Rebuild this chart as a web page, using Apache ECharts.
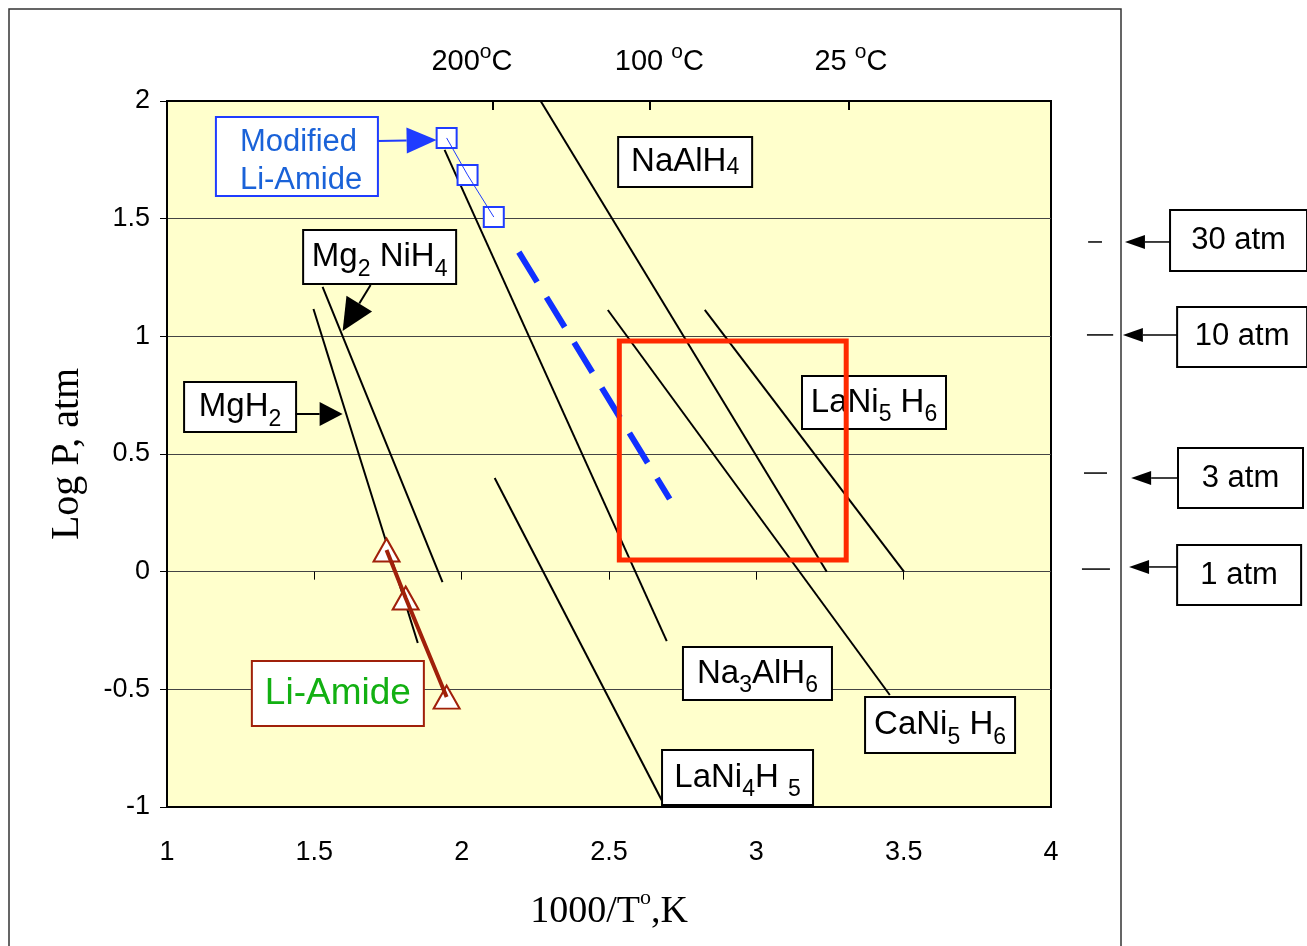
<!DOCTYPE html>
<html>
<head>
<meta charset="utf-8">
<title>Hydride dissociation pressure vs 1000/T</title>
<script src="https://cdn.jsdelivr.net/npm/echarts@6/dist/echarts.min.js"></script>
<style>
  html, body { margin: 0; padding: 0; background: #fff; }
  #chart { width: 1307px; height: 946px; }
</style>
</head>
<body>
<div id="chart"></div>
<script>
// van 't Hoff lines: [1000/T (K), log P (atm)] end points
const naAlH4 = [[2.268, 2.0], [3.239, 0.0]]
const na3AlH6 = [[1.942, 1.792], [2.696, -0.295]]
const caNi5H6 = [[2.496, 1.112], [3.453, -0.524]]
const laNi5H6 = [[2.825, 1.112], [3.501, 0.0]]
const laNi4H5 = [[2.112, 0.398], [2.679, -0.971]]
const mg2NiH4 = [[1.528, 1.210], [1.935, -0.044]]
const mgH2 = [[1.497, 1.116], [1.851, -0.303]]

// measured points
const modifiedLiAmide = [[1.949, 1.843], [2.020, 1.686], [2.109, 1.507]]
const modifiedLiAmideTrend = [[2.194, 1.358], [2.706, 0.309]]
const liAmide = [[1.745, 0.092], [1.810, -0.112], [1.949, -0.533]]

// target window (red box)
const targetX = [2.535, 3.305]
const targetY = [0.05, 0.98]

// temperature marks on the top axis
const tempTickAt = [2.106, 2.638, 3.312]
const tempLabelAt = [2.035, 2.671, 3.321]
const tempLabels = ['200{o|o}C', '100 {o|o}C', '25 {o|o}C']

// annotation boxes: text and top-left corner in data units
const noteText = [
  'Modified\nLi-Amide',
  'NaAlH{sm|4}',
  'Mg{sub|2} NiH{sub|4}',
  'MgH{sub|2}',
  'LaNi{sub|5} H{sub|6}',
  'Na{sub|3}AlH{sub|6}',
  'CaNi{sub|5} H{sub|6}',
  'LaNi{sub|4}H {sub|5}',
  'Li-Amide',
  '30 atm',
  '10 atm',
  '3 atm',
  '1 atm',
]
const noteAt = [
  [1.166, 1.932], [2.531, 1.847], [1.462, 1.452], [1.058, 0.806],
  [3.155, 0.831], [2.751, -0.320], [3.369, -0.533], [2.680, -0.758],
  [1.288, -0.380], [4.404, 1.537], [4.428, 1.125], [4.431, 0.525], [4.428, 0.113],
]

// pointer arrows (from -> to)
const arrowFrom = [
  [1.715, 1.830], [1.691, 1.218], [1.436, 0.670],
  [4.404, 1.401], [4.428, 1.006], [4.431, 0.398], [4.428, 0.020],
]
const arrowTo = [
  [1.915, 1.834], [1.596, 1.023], [1.596, 0.670],
  [4.251, 1.401], [4.244, 1.006], [4.272, 0.398], [4.265, 0.020],
]

// little pressure marks right of the plot
const pressureDashX = [[4.126, 4.173], [4.122, 4.211], [4.112, 4.190], [4.105, 4.200]]
const pressureDashY = [1.401, 1.006, 0.419, 0.011]

const SANS = '"Liberation Sans", Arial, sans-serif'
const SERIF = '"Liberation Serif", "Times New Roman", serif'
const BLUE = '#1f3cff'
const DARK_RED = '#a0200a'

// box sizes / colours for the annotations (pixels)
const noteStyle = [
  { w: 162, h: 79, stroke: BLUE, color: '#1a62d8', size: 31, align: 'left', tx: 24, ty: 44, lh: 38 },
  { w: 134, h: 50 },
  { w: 153, h: 54 },
  { w: 112, h: 50 },
  { w: 144, h: 53 },
  { w: 149, h: 53 },
  { w: 150, h: 56 },
  { w: 151, h: 55 },
  { w: 172, h: 65, stroke: DARK_RED, color: '#12b012', size: 37 },
  { w: 137, h: 61, size: 31 },
  { w: 130, h: 60, size: 31 },
  { w: 125, h: 60, size: 31 },
  { w: 124, h: 60, size: 31 },
]
const arrowStyle = [
  { color: BLUE, width: 2, head: 30, half: 13 },
  { color: '#000', width: 2, head: 32, half: 15 },
  { color: '#000', width: 2, head: 23, half: 12 },
  { color: '#000', width: 1.5, head: 20, half: 7 },
  { color: '#000', width: 1.5, head: 20, half: 7 },
  { color: '#000', width: 1.5, head: 20, half: 7 },
  { color: '#000', width: 1.5, head: 20, half: 7 },
]

// subscripts: pushed down with top padding inside the rich line
const subRich = {
  sub: { fontSize: 23, verticalAlign: 'top', padding: [19, 0, 0, 0], fontFamily: SANS },
  sm: { fontSize: 23, verticalAlign: 'top', padding: [12, 0, 0, 0], fontFamily: SANS },
}

const renderNote = (params, api) => {
  const i = params.dataIndex
  const s = noteStyle[i]
  const p = api.coord([api.value(0), api.value(1)])
  const size = s.size || 33
  return {
    type: 'group',
    children: [
      {
        type: 'rect',
        shape: { x: p[0], y: p[1], width: s.w, height: s.h },
        style: { fill: '#fff', stroke: s.stroke || '#000', lineWidth: 2 },
      },
      {
        type: 'text',
        x: p[0] + (s.tx ?? s.w / 2),
        y: p[1] + (s.ty ?? s.h / 2),
        style: {
          text: noteText[i],
          fill: s.color || '#000',
          fontSize: size,
          fontFamily: SANS,
          lineHeight: s.lh || 36,
          align: s.align || 'center',
          verticalAlign: 'middle',
          rich: subRich,
        },
      },
    ],
  }
}

const renderSegment = (styles) => (params, api) => {
  const s = styles[params.dataIndex] || styles[0]
  const a = api.coord([api.value(0), api.value(1)])
  const b = api.coord([api.value(2), api.value(3)])
  const dx = b[0] - a[0]
  const dy = b[1] - a[1]
  const len = Math.hypot(dx, dy) || 1
  const ux = dx / len
  const uy = dy / len
  const bx = b[0] - ux * s.head
  const by = b[1] - uy * s.head
  const children = [
    {
      type: 'line',
      shape: { x1: a[0], y1: a[1], x2: bx, y2: by },
      style: { stroke: s.color, lineWidth: s.width },
    },
  ]
  if (s.head) {
    children.push({
      type: 'polygon',
      shape: {
        points: [
          [b[0], b[1]],
          [bx - uy * s.half, by + ux * s.half],
          [bx + uy * s.half, by - ux * s.half],
        ],
      },
      style: { fill: s.color },
    })
  }
  return { type: 'group', children }
}

const hydrideLine = (name, data) => ({
  name,
  type: 'line',
  data,
  symbol: 'none',
  silent: true,
  z: 2,
  lineStyle: { color: '#000', width: 2 },
})

const targetBox = [
  [targetX[0], targetY[1]],
  [targetX[1], targetY[1]],
  [targetX[1], targetY[0]],
  [targetX[0], targetY[0]],
  [targetX[0], targetY[1]],
]

const chart = echarts.init(document.getElementById('chart'))

chart.setOption({
  animation: false,
  backgroundColor: '#fff',
  graphic: [
    {
      type: 'rect',
      silent: true,
      shape: { x: 9, y: 9, width: 1112, height: 1000 },
      style: { fill: 'none', stroke: '#333', lineWidth: 1.5 },
    },
  ],
  grid: {
    left: 167,
    right: 256,
    top: 101,
    bottom: 139,
    show: true,
    backgroundColor: '#ffffcc',
    borderColor: '#000',
    borderWidth: 2,
    containLabel: false,
    outerBoundsMode: 'none',
  },
  xAxis: [
    {
      type: 'value',
      position: 'bottom',
      min: 1,
      max: 4,
      interval: 0.5,
      name: '1000/T{o|o},K',
      nameLocation: 'middle',
      nameGap: 80,
      nameTextStyle: {
        fontFamily: SERIF,
        fontSize: 38,
        color: '#000',
        lineHeight: 50,
        rich: { o: { fontFamily: SERIF, fontSize: 22, verticalAlign: 'top', color: '#000' } },
      },
      axisLine: { onZero: false, lineStyle: { color: '#000', width: 2 } },
      axisTick: { show: false },
      splitLine: { show: false },
      axisLabel: { margin: 32, fontSize: 27, color: '#000', fontFamily: SANS },
    },
    {
      // tick marks sit on the log P = 0 line, as in the original
      type: 'value',
      position: 'bottom',
      min: 1,
      max: 4,
      interval: 0.5,
      axisLine: { show: false, onZero: true },
      axisTick: { show: true, inside: false, length: 8, lineStyle: { color: '#000', width: 1 } },
      axisLabel: { show: false },
      splitLine: { show: false },
    },
    {
      type: 'value',
      position: 'top',
      min: 1,
      max: 4,
      axisLine: { show: false, onZero: false },
      axisTick: { show: true, inside: true, length: 9, customValues: tempTickAt, lineStyle: { color: '#000', width: 2 } },
      splitLine: { show: false },
      axisLabel: {
        customValues: tempLabelAt,
        formatter: (v) => tempLabels[tempLabelAt.findIndex((t) => Math.abs(t - v) < 1e-6)] || '',
        margin: 19,
        fontSize: 29,
        lineHeight: 40,
        color: '#000',
        fontFamily: SANS,
        rich: { o: { fontSize: 21, verticalAlign: 'top', fontFamily: SANS, color: '#000' } },
      },
    },
  ],
  yAxis: {
    type: 'value',
    min: -1,
    max: 2,
    interval: 0.5,
    name: 'Log P, atm',
    nameLocation: 'middle',
    nameGap: 80,
    nameTextStyle: { fontFamily: SERIF, fontSize: 40, color: '#000' },
    axisLine: { show: true, lineStyle: { color: '#000', width: 2 } },
    axisTick: { show: true, length: 7, lineStyle: { color: '#000', width: 1 } },
    axisLabel: { margin: 17, fontSize: 27, color: '#000', fontFamily: SANS },
    splitLine: { show: true, showMinLine: false, showMaxLine: false, lineStyle: { color: '#444', width: 1 } },
  },
  series: [
    hydrideLine('NaAlH4', naAlH4),
    hydrideLine('Na3AlH6', na3AlH6),
    hydrideLine('CaNi5H6', caNi5H6),
    hydrideLine('LaNi5H6', laNi5H6),
    hydrideLine('LaNi4H5', laNi4H5),
    hydrideLine('Mg2NiH4', mg2NiH4),
    hydrideLine('MgH2', mgH2),
    {
      name: 'Modified Li-Amide trend',
      type: 'line',
      data: modifiedLiAmideTrend,
      symbol: 'none',
      silent: true,
      z: 2,
      lineStyle: { color: '#1030ff', width: 6, type: [35, 18], cap: 'butt' },
    },
    {
      name: 'Modified Li-Amide',
      type: 'scatter',
      data: modifiedLiAmide,
      symbol: 'rect',
      symbolSize: 20,
      silent: true,
      z: 3,
      itemStyle: { color: '#fff', borderColor: BLUE, borderWidth: 2, opacity: 1 },
    },
    {
      name: 'Modified Li-Amide link',
      type: 'line',
      data: modifiedLiAmide,
      symbol: 'none',
      silent: true,
      z: 4,
      lineStyle: { color: BLUE, width: 1 },
    },
    {
      name: 'Li-Amide',
      type: 'scatter',
      data: liAmide,
      symbol: 'triangle',
      symbolSize: [26, 23],
      silent: true,
      z: 3,
      itemStyle: { color: '#fff', borderColor: DARK_RED, borderWidth: 2, opacity: 1 },
    },
    {
      name: 'Li-Amide link',
      type: 'line',
      data: liAmide,
      symbol: 'none',
      silent: true,
      z: 4,
      lineStyle: { color: DARK_RED, width: 4 },
    },
    {
      name: 'notes',
      type: 'custom',
      silent: true,
      clip: false,
      z: 5,
      data: noteAt.map((p, i) => [p[0], p[1], i]),
      encode: { x: 0, y: 1 },
      renderItem: renderNote,
    },
    {
      name: 'arrows',
      type: 'custom',
      silent: true,
      clip: false,
      z: 6,
      data: arrowFrom.map((f, i) => [f[0], f[1], arrowTo[i][0], arrowTo[i][1]]),
      encode: { x: [0, 2], y: [1, 3] },
      renderItem: renderSegment(arrowStyle),
    },
    {
      name: 'pressure marks',
      type: 'custom',
      silent: true,
      clip: false,
      z: 6,
      data: pressureDashX.map((xs, i) => [xs[0], pressureDashY[i], xs[1], pressureDashY[i]]),
      encode: { x: [0, 2], y: [1, 3] },
      renderItem: renderSegment([{ color: '#000', width: 1.5, head: 0, half: 0 }]),
    },
    {
      name: 'target',
      type: 'line',
      data: targetBox,
      symbol: 'none',
      silent: true,
      z: 7,
      lineStyle: { color: '#ff2a00', width: 5, cap: 'square', join: 'miter' },
    },
  ],
})
</script>
</body>
</html>
